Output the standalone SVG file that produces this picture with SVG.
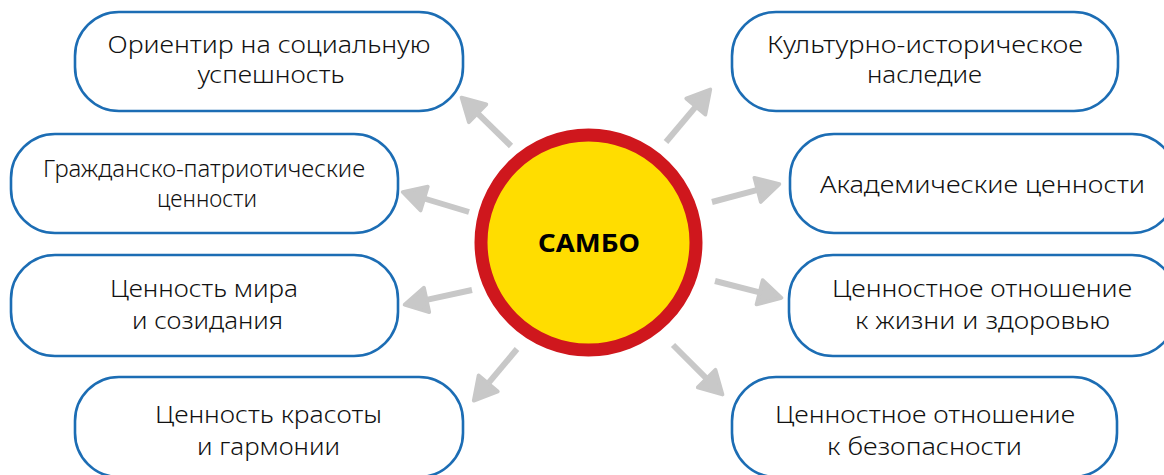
<svg xmlns="http://www.w3.org/2000/svg" width="1164" height="475" viewBox="0 0 1164 475">
<style>
.box{fill:#fff;stroke:#1c6db4;stroke-width:2.6}
.t{font-family:"Noto Sans","Open Sans","DejaVu Sans",sans-serif;font-size:24px;font-weight:300;fill:#111;text-anchor:middle}
.arr{stroke:#c8c8c8;stroke-width:6;fill:none;marker-end:url(#head)}
</style>
<defs>
<marker id="head" markerUnits="userSpaceOnUse" markerWidth="40" markerHeight="40" viewBox="-4 -16 30 32" refX="0" refY="0" orient="auto">
<path d="M0,-10 L18,0 L0,10 Z" fill="#c8c8c8" stroke="#c8c8c8" stroke-width="3" stroke-linejoin="round"/>
</marker>
</defs>
<rect width="1164" height="475" fill="#fff"/>
<g id="connectors">
<line class="arr" x1="511" y1="146" x2="477.6" y2="113.3"/>
<line class="arr" x1="666" y1="142" x2="695.8" y2="106.6"/>
<line class="arr" x1="469" y1="212" x2="424.2" y2="198.5"/>
<line class="arr" x1="712" y1="202" x2="757.6" y2="189.9"/>
<line class="arr" x1="472" y1="290" x2="426.6" y2="299.9"/>
<line class="arr" x1="715" y1="281" x2="759.6" y2="292.3"/>
<line class="arr" x1="517" y1="349" x2="488.2" y2="383.4"/>
<line class="arr" x1="673" y1="345" x2="706.6" y2="378.6"/>
</g>
<g id="center">
<circle cx="588.5" cy="242.5" r="107.5" fill="#ffdd00" stroke="#cf171d" stroke-width="13"/>
<text x="589" y="251.5" font-family="'Noto Sans','Open Sans',sans-serif" font-size="24.5" font-weight="700" fill="#000" text-anchor="middle" textLength="102" lengthAdjust="spacingAndGlyphs">САМБО</text>
</g>
<g id="n1">
<rect class="box" x="75" y="12" width="388" height="99" rx="44"/>
<text class="t" x="269" y="53" textLength="323" lengthAdjust="spacingAndGlyphs">Ориентир на социальную</text>
<text class="t" x="271" y="83" textLength="147" lengthAdjust="spacingAndGlyphs">успешность</text>
</g>
<g id="n2">
<rect class="box" x="11" y="134" width="387" height="99" rx="44"/>
<text class="t" x="204" y="177" textLength="322" lengthAdjust="spacingAndGlyphs">Гражданско-патриотические</text>
<text class="t" x="207" y="207" textLength="100" lengthAdjust="spacingAndGlyphs">ценности</text>
</g>
<g id="n3">
<rect class="box" x="732" y="12" width="386" height="99" rx="44"/>
<text class="t" x="925" y="53" textLength="316" lengthAdjust="spacingAndGlyphs">Культурно-историческое</text>
<text class="t" x="924.5" y="83" textLength="115" lengthAdjust="spacingAndGlyphs">наследие</text>
</g>
<g id="n4">
<rect class="box" x="790" y="134" width="386" height="99" rx="44"/>
<text class="t" x="982.5" y="193" textLength="325" lengthAdjust="spacingAndGlyphs">Академические ценности</text>
</g>
<g id="n5">
<rect class="box" x="11" y="255" width="387" height="101" rx="44"/>
<text class="t" x="204" y="297" textLength="188" lengthAdjust="spacingAndGlyphs">Ценность мира</text>
<text class="t" x="207.5" y="329" textLength="151" lengthAdjust="spacingAndGlyphs">и созидания</text>
</g>
<g id="n6">
<rect class="box" x="75" y="377" width="388" height="100" rx="44"/>
<text class="t" x="268.5" y="423" textLength="227" lengthAdjust="spacingAndGlyphs">Ценность красоты</text>
<text class="t" x="268.5" y="455" textLength="143" lengthAdjust="spacingAndGlyphs">и гармонии</text>
</g>
<g id="n7">
<rect class="box" x="789" y="255" width="387" height="101" rx="44"/>
<text class="t" x="982" y="297" textLength="300" lengthAdjust="spacingAndGlyphs">Ценностное отношение</text>
<text class="t" x="982.5" y="329" textLength="255" lengthAdjust="spacingAndGlyphs">к жизни и здоровью</text>
</g>
<g id="n8">
<rect class="box" x="732" y="377" width="385" height="100" rx="44"/>
<text class="t" x="925" y="423" textLength="300" lengthAdjust="spacingAndGlyphs">Ценностное отношение</text>
<text class="t" x="924.5" y="455" textLength="195" lengthAdjust="spacingAndGlyphs">к безопасности</text>
</g>
</svg>
